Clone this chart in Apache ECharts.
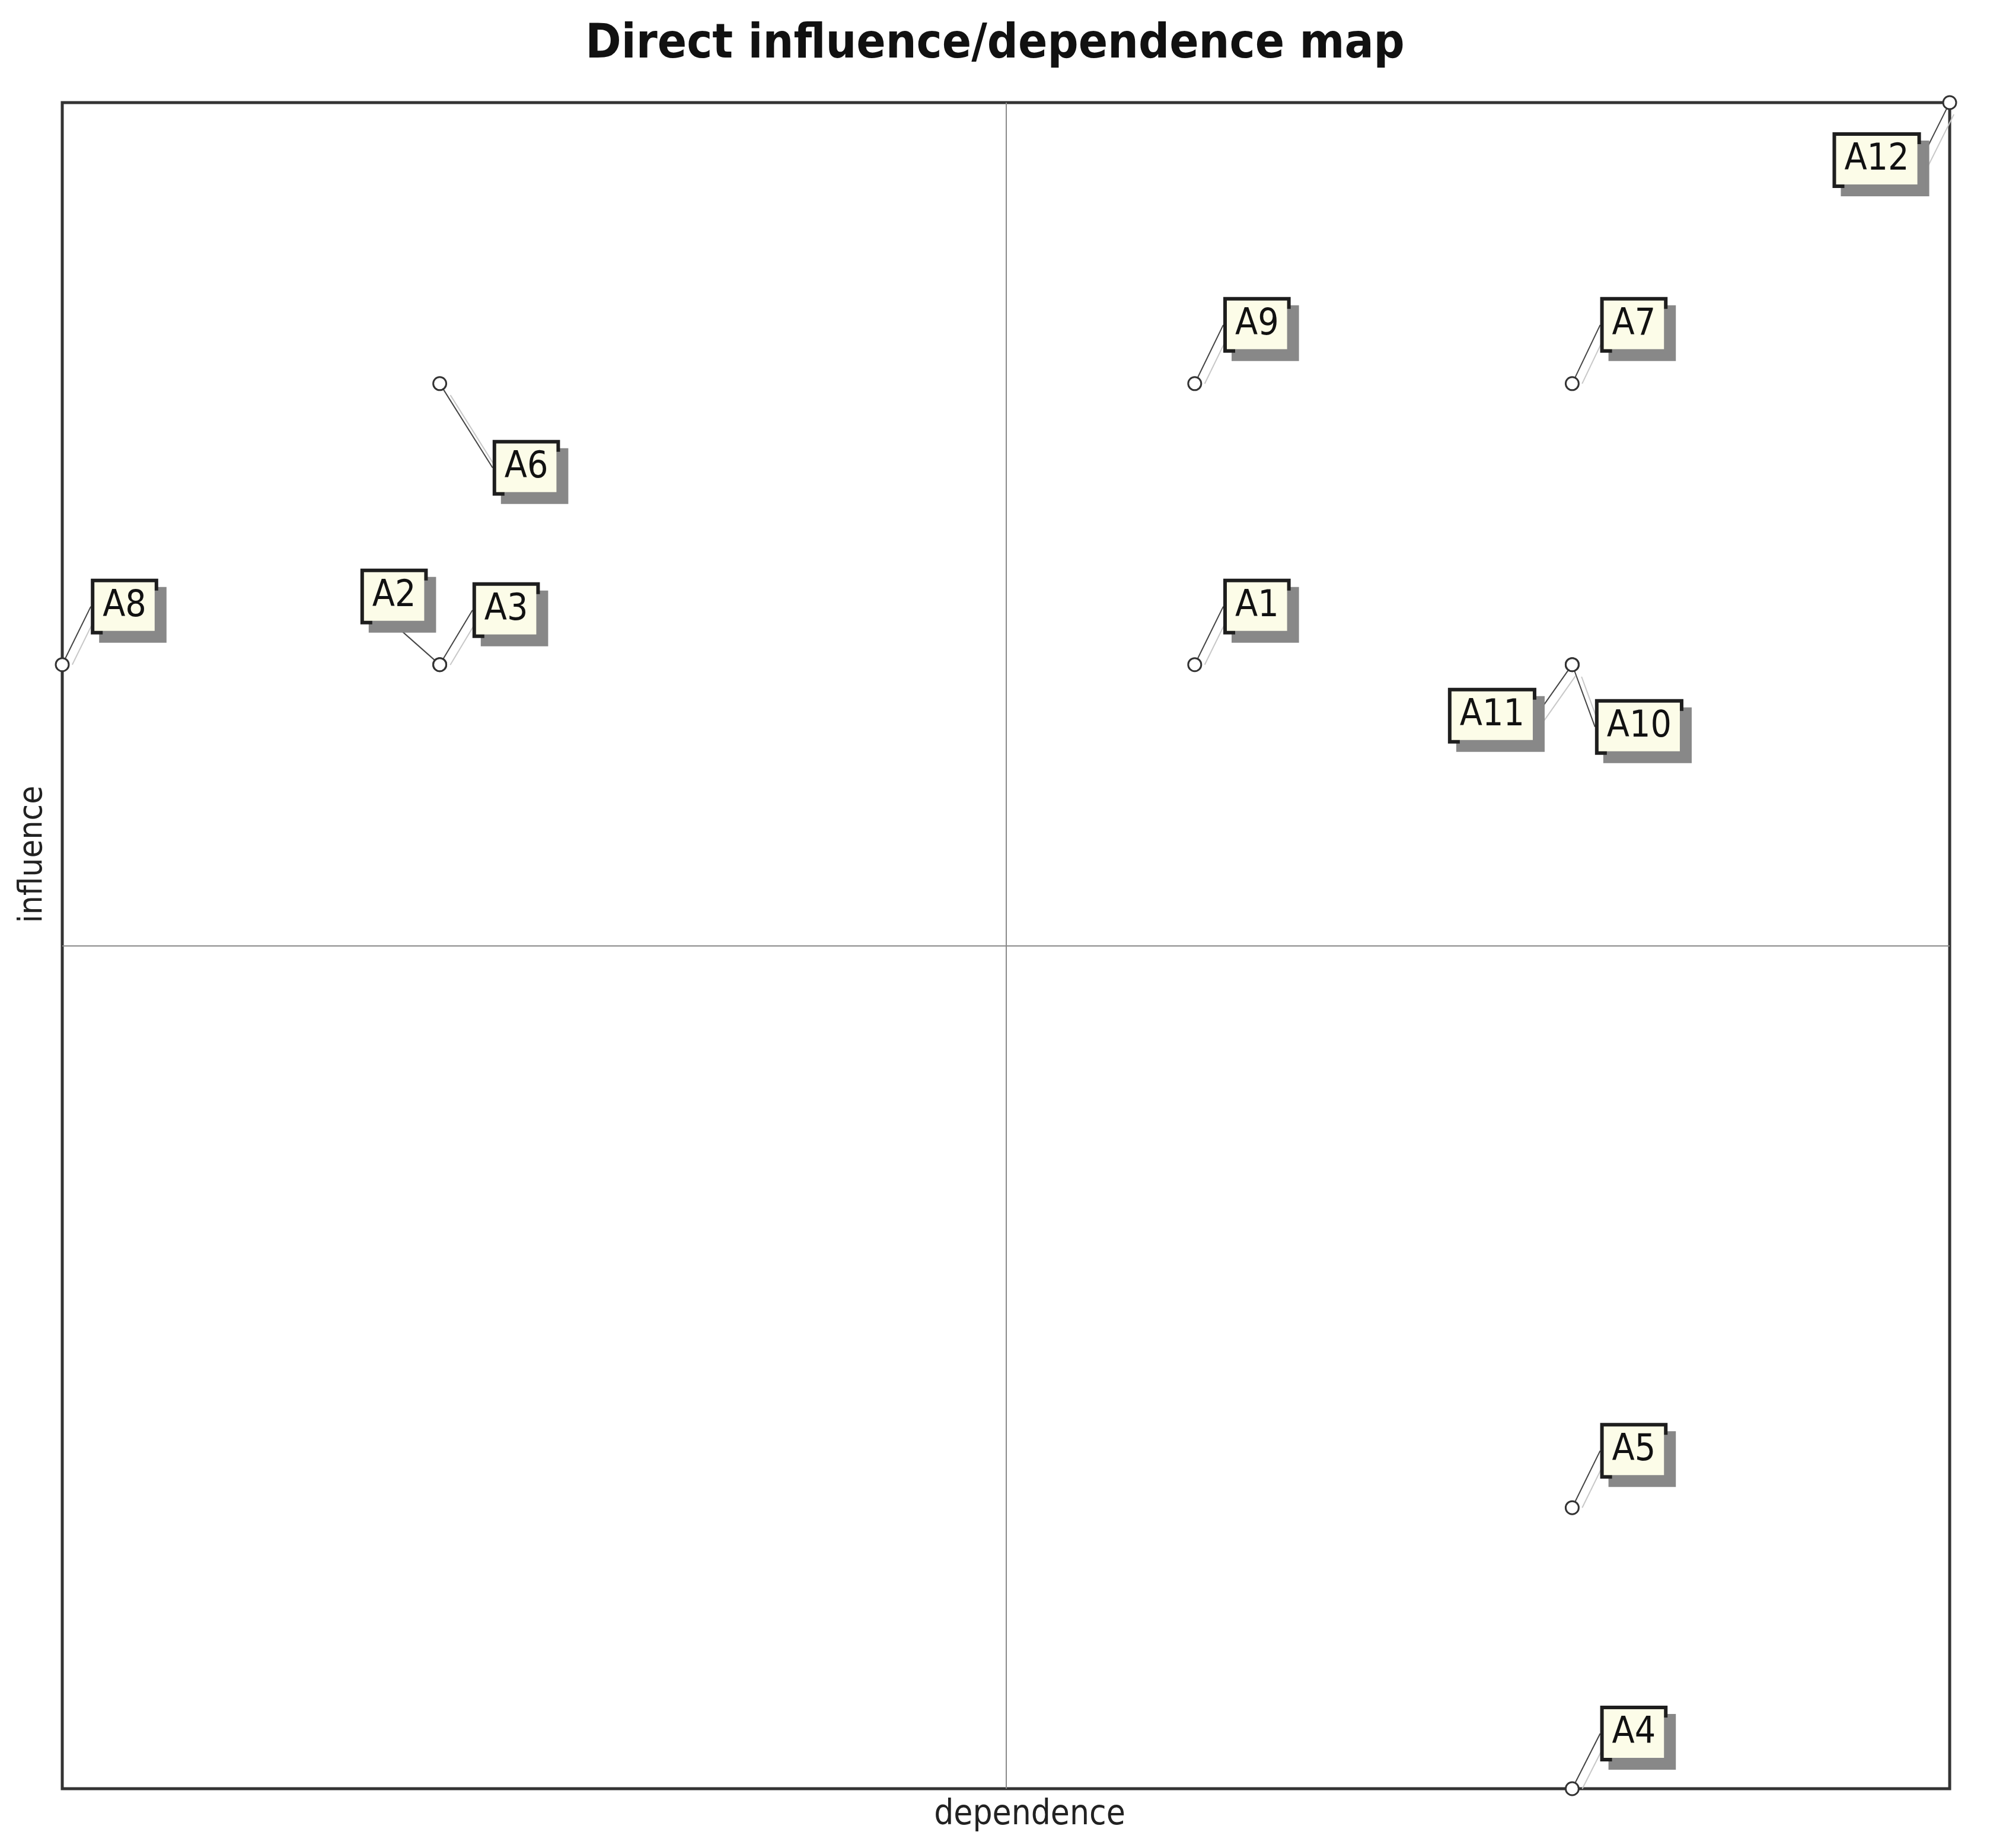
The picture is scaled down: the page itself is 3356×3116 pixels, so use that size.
<!DOCTYPE html>
<html>
<head>
<meta charset="utf-8">
<title>Direct influence/dependence map</title>
<script src="https://cdn.jsdelivr.net/npm/echarts@6/dist/echarts.min.js"></script>
<style>
  html, body { margin: 0; padding: 0; background: #fff; }
  #chart { width: 3356px; height: 3116px; }
</style>
</head>
<body>
<div id="chart"></div>
<script>
// variables of the map
const names = ['A1', 'A2', 'A3', 'A4', 'A5', 'A6', 'A7', 'A8', 'A9', 'A10', 'A11', 'A12']
// dependence (x) and influence (y)
const dependence = [3, 1, 1, 4, 4, 1, 4, 0, 3, 4, 4, 5]
const influence = [4, 4, 4, 0, 1, 5, 5, 4, 5, 4, 4, 6]
const xMax = 5
const yMax = 6
const midX = 2.5
const midY = 3

// where each tag sits relative to its point (layout only)
const tagShift = {
  A1: [105, -98], A2: [-77, -115], A3: [112, -92], A4: [104, -93],
  A5: [104, -96], A6: [146, 142], A7: [104, -99], A8: [105, -98],
  A9: [105, -99], A10: [113, 105], A11: [-135, 86], A12: [-123, 97]
}

const narrow = '"Liberation Sans Narrow", "DejaVu Sans Condensed", "Arial Narrow", "Liberation Sans", sans-serif'

const chart = echarts.init(document.getElementById('chart'))

chart.setOption({
  backgroundColor: '#fff',
  animation: false,
  title: {
    text: 'Direct influence/dependence map',
    left: 'center',
    top: 30,
    textStyle: { fontFamily: narrow, fontSize: 81, fontWeight: 'bold', color: '#111' }
  },
  grid: {
    left: 105, right: 68, top: 173, bottom: 100,
    show: true, borderColor: '#333', borderWidth: 5, backgroundColor: '#fff'
  },
  xAxis: {
    type: 'value', min: 0, max: xMax,
    name: 'dependence', nameLocation: 'middle', nameGap: 16,
    nameTextStyle: { fontFamily: narrow, fontSize: 58, color: '#222', padding: [0, 0, 0, 80] },
    axisLine: { show: false }, axisTick: { show: false },
    axisLabel: { show: false }, splitLine: { show: false }
  },
  yAxis: {
    type: 'value', min: 0, max: yMax,
    name: 'influence', nameLocation: 'middle', nameGap: 22, nameRotate: 90,
    nameTextStyle: { fontFamily: narrow, fontSize: 56, color: '#222', padding: [0, 0, 0, 308] },
    axisLine: { show: false }, axisTick: { show: false },
    axisLabel: { show: false }, splitLine: { show: false }
  },
  series: [{
    type: 'scatter',
    clip: false,
    data: names.map((n, i) => ({ name: n, value: [dependence[i], influence[i]] })),
    symbol: 'circle',
    symbolSize: 22,
    itemStyle: { color: '#fff', borderColor: '#333', borderWidth: 3, opacity: 1 },
    label: {
      show: true,
      position: 'inside',
      formatter: p => p.name,
      fontFamily: narrow,
      fontSize: 62,
      lineHeight: 62,
      color: '#111',
      backgroundColor: '#fcfce8',
      borderColor: '#1e1e1e',
      borderWidth: 6,
      padding: [10, 14],
      shadowColor: '#888',
      shadowOffsetX: 14,
      shadowOffsetY: 14,
      shadowBlur: 0
    },
    labelLine: {
      show: true,
      lineStyle: {
        color: '#444', width: 2,
        shadowColor: '#c8c8c8', shadowOffsetX: 12, shadowOffsetY: 10, shadowBlur: 0
      }
    },
    labelLayout: params => {
      const s = tagShift[names[params.dataIndex]]
      return { dx: s[0], dy: s[1] }
    },
    markLine: {
      silent: true,
      symbol: 'none',
      label: { show: false },
      lineStyle: { color: '#8a8a8a', width: 2, type: 'solid' },
      data: [{ xAxis: midX }, { yAxis: midY }]
    },
    z: 5
  }]
})
</script>
</body>
</html>
